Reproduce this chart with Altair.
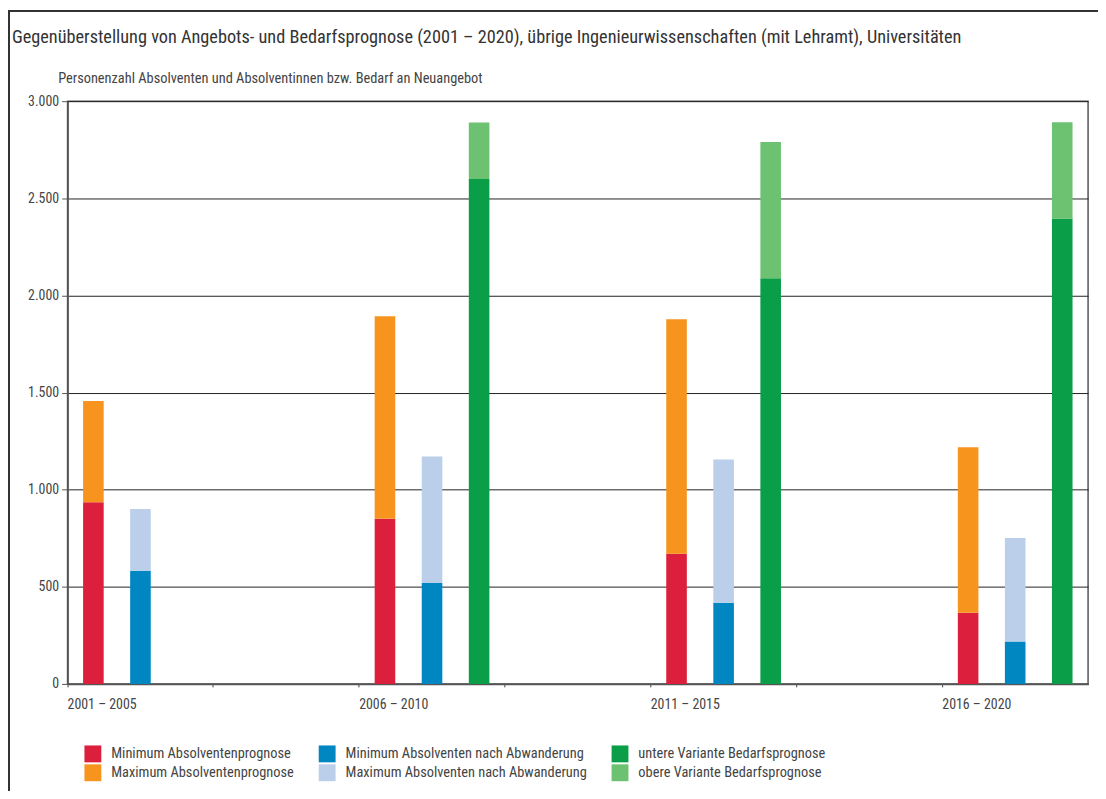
import altair as alt
import pandas as pd

# ---- data ----
periods = ["2001 – 2005", "2006 – 2010", "2011 – 2015", "2016 – 2020"]
min_absolventen = [935, 850, 670, 367]
max_absolventen = [1457, 1893, 1878, 1218]
min_abwanderung = [582, 520, 418, 218]
max_abwanderung = [900, 1171, 1155, 751]
bedarf_unten = [None, 2600, 2088, 2396]
bedarf_oben = [None, 2890, 2790, 2892]

series_names = [
    "Minimum Absolventenprognose",
    "Maximum Absolventenprognose",
    "Minimum Absolventen nach Abwanderung",
    "Maximum Absolventen nach Abwanderung",
    "untere Variante Bedarfsprognose",
    "obere Variante Bedarfsprognose",
]
series_colors = ["#DC1F3C", "#F7941D", "#0087C1", "#BBCFEA", "#0A9E48", "#6CC271"]
groups = ["Absolventen", "Abwanderung", "Bedarf"]

# x domain with empty spacer slots between the periods
x_domain = [periods[0], " ", periods[1], "  ", periods[2], "   ", periods[3]]

rows = []
pairs = [
    (groups[0], series_names[0], series_names[1], min_absolventen, max_absolventen),
    (groups[1], series_names[2], series_names[3], min_abwanderung, max_abwanderung),
    (groups[2], series_names[4], series_names[5], bedarf_unten, bedarf_oben),
]
for g, lo_name, hi_name, lo_vals, hi_vals in pairs:
    for p, lo, hi in zip(periods, lo_vals, hi_vals):
        if lo is None:
            continue
        rows.append(dict(period=p, group=g, series=lo_name, start=0, end=lo))
        rows.append(dict(period=p, group=g, series=hi_name, start=lo, end=hi))
df = pd.DataFrame(rows)

FONT = "Liberation Sans Narrow, Roboto Condensed, Liberation Sans, sans-serif"
W, H = 1028, 587
BAND = W / len(x_domain)

bars = alt.Chart(df).mark_bar().encode(
    x=alt.X("period:N",
            scale=alt.Scale(domain=x_domain, paddingInner=0, paddingOuter=0),
            axis=alt.Axis(title=None, bandPosition=0, labelAlign="left", labelAngle=0,
                          labelOffset=-BAND / 2, labelBaseline="top", labelPadding=11,
                          tickSize=3, tickColor="#444", domainColor="#555", domainWidth=1.6,
                          labelFontSize=14, labelColor="#444", grid=False)),
    xOffset=alt.XOffset("group:N", scale=alt.Scale(domain=groups, paddingInner=0.5625,
                                                    paddingOuter=0.33)),
    y=alt.Y("start:Q",
            scale=alt.Scale(domain=[0, 3000], nice=False),
            axis=alt.Axis(values=[0, 500, 1000, 1500, 2000, 2500, 3000],
                          labelExpr="replace(format(datum.value, ','), ',', '.')",
                          title="Personenzahl Absolventen und Absolventinnen bzw. Bedarf an Neuangebot",
                          titleAngle=0, titleAlign="left", titleBaseline="alphabetic",
                          titleX=-10, titleY=-19, titleFontSize=14.5, titleFontWeight="normal",
                          titleColor="#444",
                          grid=True, gridColor="#222", gridWidth=1,
                          tickSize=6, tickColor="#555", labelPadding=3,
                          domainColor="#555", domainWidth=1.6,
                          labelFontSize=14, labelColor="#444")),
    y2="end:Q",
    color=alt.Color("series:N",
                    scale=alt.Scale(domain=series_names, range=series_colors),
                    legend=alt.Legend(title=None, orient="none", legendX=17, legendY=649,
                                      columns=3, symbolType="square", symbolSize=289,
                                      symbolStrokeWidth=0, symbolOpacity=1,
                                      labelFontSize=14.5, labelColor="#444",
                                      labelOffset=10, rowPadding=2, columnPadding=24,
                                      padding=0, labelLimit=400)),
)

frame_top = alt.Chart(df).mark_rule(color="#333", strokeWidth=1.5).encode(
    x=alt.value(-60), x2=alt.value(W + 10), y=alt.value(-90.5))
frame_left = alt.Chart(df).mark_rule(color="#333", strokeWidth=1.5).encode(
    x=alt.value(-59.5), y=alt.value(-91), y2=alt.value(H + 110))

chart = alt.layer(bars, frame_top, frame_left).properties(
    width=W, height=H,
    autosize=alt.AutoSizeParams(type="none"),
    padding={"left": 60, "top": 91, "right": 10, "bottom": 105},
    title=alt.TitleParams(
        text="Gegenüberstellung von Angebots- und Bedarfsprognose (2001 – 2020), übrige Ingenieurwissenschaften (mit Lehramt), Universitäten",
        anchor="start", frame="group", dx=-56, offset=-52, baseline="alphabetic",
        fontSize=18.4, fontWeight="normal", color="#333"),
).configure(font=FONT).configure_view(stroke="#555", strokeWidth=1.5)

chart.save("out.html", embed_options={"renderer": "svg", "actions": False})
